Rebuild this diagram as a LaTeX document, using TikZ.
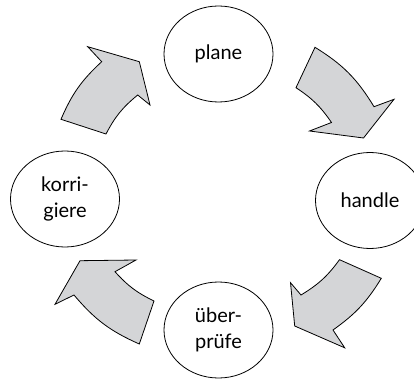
\documentclass[tikz,border=0pt]{standalone}
\usepackage{fontspec}
\usetikzlibrary{shapes.geometric}
\newfontfamily\stagefont{Lato}
\definecolor{arrowgray}{RGB}{212,213,215}

\begin{document}
\begin{tikzpicture}[x=1pt, y=-1pt,
  stage/.style={ellipse, draw=black, line width=0.8pt, fill=white,
    minimum width=109pt, minimum height=96pt, inner sep=0pt,
    align=center, font=\stagefont\fontsize{20}{26.5}\selectfont},
  cyclearrow/.style={draw=black, line width=0.8pt, fill=arrowgray,
    line join=miter}]
  \useasboundingbox (0,0) rectangle (414,379);

  % the four stages of the cycle
  \node[stage] (plane) at (218.5,54) {plane};
  \node[stage] (handle) at (370,200.5) {handle};
  \node[stage] (pruefe) at (218.5,330) {über-\\prüfe};
  \node[stage] (korrigiere) at (65,199) {korri-\\giere};

  % curved block arrows, running clockwise
  % korrigiere -> plane
  \draw[cyclearrow] (61,119.3) to[bend left=12] (101.7,61.7)
    -- (87.7,46.7) -- (139.3,61.7) -- (150,105) -- (137.7,95)
    to[bend right=11.5] (106,134) -- cycle;
  % plane -> handle
  \draw[cyclearrow] (315,47.3) to[bend left=13.5] (374,106.7)
    -- (394,99.3) -- (363.5,138) -- (309.5,131) -- (331.5,122.5)
    to[bend right=11] (296,87.7) -- cycle;
  % handle -> überprüfe
  \draw[cyclearrow] (381.3,278.3) to[bend left=11.5] (333,330)
    -- (344.7,347.8) -- (294.7,326) -- (290.5,282.7) -- (301,295)
    to[bend right=11.3] (339.5,259.7) -- cycle;
  % überprüfe -> korrigiere
  \draw[cyclearrow] (139.3,344) to[bend left=13] (74,295)
    -- (55,304.3) -- (80,260.7) -- (136,260) -- (115,271.7)
    to[bend right=11] (154,301) -- cycle;
\end{tikzpicture}
\end{document}
